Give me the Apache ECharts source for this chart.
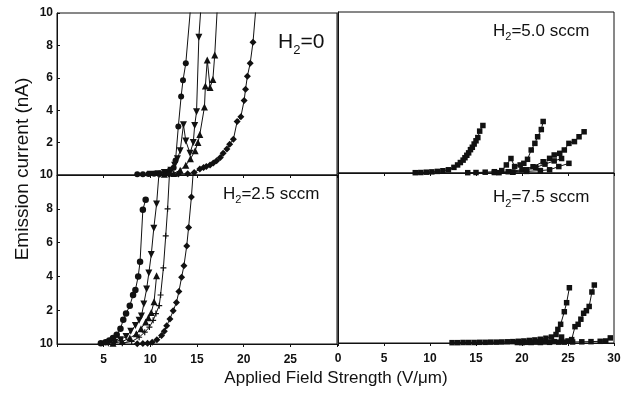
<!DOCTYPE html>
<html><head><meta charset="utf-8">
<script src="https://cdn.jsdelivr.net/npm/echarts/dist/echarts.min.js"></script>
<style>html,body{margin:0;padding:0;background:#fff}#c{width:626px;height:396px}</style>
</head><body><div id="c"></div>
<script>
// ---- tick labels ----
const xTicksLeft = ['', '5', '10', '15', '20', '25', ''];
const xTicksRight = ['0', '5', '10', '15', '20', '25', '30'];
const yTicksTop = ['', '2', '4', '6', '8', '10'];
const yTicksBottom = ['10', '2', '4', '6', '8', '10'];
const panelTitles = ['=0', '=5.0 sccm', '=2.5 sccm', '=7.5 sccm'];
const xTitle = 'Applied Field Strength (V/\u03bcm)';
const yTitle = 'Emission current (nA)';

// ---- H2 = 0 (top-left) ----
const tlCircle = [[8.6,0.05],[9.2,0.05],[9.8,0.06],[10.4,0.07],[11.0,0.1],[11.6,0.18],[12.1,0.3],[12.5,0.45],[12.7,0.9],[13.0,3.0],[13.3,4.85],[13.5,5.85],[13.8,6.9],[14.35,10.6]];
const tlInvTri = [[10.0,0.05],[10.8,0.08],[11.5,0.15],[12.2,0.3],[12.6,0.6],[12.9,1.0],[13.2,1.5],[13.55,3.1],[13.8,2.1],[14.25,1.35],[14.6,2.0],[14.75,3.05],[14.95,3.9],[15.2,8.5],[15.45,10.6]];
const tlTri = [[11.5,0.05],[12.5,0.1],[13.2,0.3],[13.8,0.6],[14.3,1.0],[14.8,1.5],[15.1,2.0],[15.3,2.5],[15.8,4.2],[15.9,5.5],[16.1,7.1],[16.4,5.4],[16.7,5.9],[16.9,7.4],[17.2,10.6]];
const tlDiamond = [[11.0,0.05],[12.0,0.05],[13.0,0.06],[14.0,0.08],[14.7,0.15],[15.3,0.37],[15.7,0.47],[16.0,0.53],[16.4,0.61],[16.75,0.74],[17.1,0.88],[17.5,1.08],[17.8,1.35],[18.2,1.6],[18.5,1.9],[18.9,2.2],[19.3,3.3],[19.7,3.6],[20.05,4.6],[20.2,5.3],[20.4,6.1],[20.7,6.9],[21.0,8.2],[21.35,10.6]];

// ---- H2 = 2.5 sccm (bottom-left) ----
const blCircle = [[4.7,0.05],[5.2,0.1],[5.6,0.2],[6.0,0.35],[6.4,0.55],[6.8,0.9],[7.1,1.44],[7.4,1.8],[7.8,2.27],[8.15,2.9],[8.4,3.2],[8.7,4.0],[8.9,4.87],[9.2,7.95],[9.5,8.54]];
const blInvTri = [[5.5,0.05],[6.2,0.1],[6.8,0.25],[7.4,0.45],[7.9,0.75],[8.4,1.1],[8.8,1.4],[9.05,1.65],[9.3,2.37],[9.6,3.25],[9.84,4.2],[10.1,5.3],[10.37,6.85],[10.67,8.28],[11.0,10.6]];
const blTri = [[6.0,0.05],[7.0,0.15],[7.8,0.35],[8.5,0.6],[9.0,0.9],[9.5,1.3],[9.8,1.55],[10.1,1.87],[10.4,2.5],[10.67,4.04]];
const blPlus = [[7.0,0.05],[8.0,0.15],[8.8,0.4],[9.4,0.7],[9.9,1.0],[10.3,1.4],[10.6,1.8],[10.95,2.27],[11.1,2.9],[11.4,4.5],[11.65,6.4],[11.85,8.0],[12.1,10.6]];
const blDiamond = [[8.6,0.02],[9.2,0.03],[9.7,0.05],[10.2,0.1],[10.7,0.25],[11.2,0.5],[11.5,0.75],[11.75,1.08],[12.1,1.48],[12.45,1.97],[12.8,2.46],[13.06,3.1],[13.35,3.95],[13.6,4.63],[13.9,5.8],[14.1,6.9],[14.4,8.7],[14.65,10.6]];

// ---- H2 = 5.0 sccm (top-right) ----
const trSq1 = [[8.4,0.02],[9.0,0.03],[9.6,0.05],[10.2,0.07],[10.8,0.1],[11.4,0.14],[12.0,0.2],[12.6,0.35],[13.0,0.5],[13.3,0.65],[13.6,0.8],[13.8,0.95],[14.0,1.1],[14.2,1.25],[14.4,1.45],[14.6,1.6],[14.8,1.8],[15.0,2.0],[15.2,2.2],[15.4,2.6],[15.75,2.95]];
const trSq2 = [[14.1,0.02],[15.0,0.03],[16.0,0.05],[17.0,0.08],[17.8,0.15],[18.3,0.5],[18.8,0.9],[19.2,0.4],[19.8,0.5],[20.2,0.6],[20.6,0.85],[21.0,1.43],[21.4,1.84],[21.7,2.25],[22.1,2.7],[22.3,3.2]];
const trSq3 = [[17.0,0.03],[18.5,0.08],[20.0,0.2],[21.2,0.39],[22.3,0.7],[23.0,0.91],[23.5,1.12],[24.1,1.22],[24.6,1.43],[25.1,1.84],[25.7,1.95],[26.2,2.25],[26.75,2.56]];
const trSq4 = [[17.5,0.02],[19.0,0.05],[20.5,0.1],[22.0,0.15],[23.0,0.2],[24.0,0.4],[25.1,0.6]];
const trSq5 = [[19.0,0.05],[20.5,0.2],[21.5,0.35],[22.5,0.55],[23.5,0.75],[24.3,0.9]];

// ---- H2 = 7.5 sccm (bottom-right) ----
const brSq1 = [[12.4,0.02],[13.0,0.02],[13.6,0.03],[14.2,0.03],[14.8,0.03],[15.4,0.04],[16.0,0.04],[16.6,0.05],[17.2,0.05],[17.8,0.06],[18.4,0.07],[19.0,0.08],[19.6,0.1],[20.2,0.12],[20.8,0.15],[21.4,0.18],[22.0,0.22],[22.6,0.28],[23.2,0.35],[23.7,0.5],[23.9,0.8],[24.2,1.1],[24.6,1.84],[24.85,2.37],[25.15,3.25]];
const brSq2 = [[19.5,0.03],[20.5,0.04],[21.5,0.05],[22.5,0.06],[23.5,0.08],[24.3,0.1],[25.0,0.12],[25.4,0.2],[25.76,0.96],[26.1,1.1],[26.4,1.4],[26.7,1.75],[27.0,1.9],[27.3,2.15],[27.6,3.0],[27.86,3.41]];
const brSq3 = [[20.0,0.02],[21.0,0.03],[22.0,0.03],[23.0,0.04],[24.0,0.05],[24.3,0.35],[24.6,0.05],[25.5,0.06],[26.5,0.07],[27.5,0.08],[28.5,0.1],[29.1,0.12],[29.6,0.3]];

const INK = '#111111';
const FAM = '"Liberation Sans", Arial, Helvetica, sans-serif';
const PLUS = 'path://M4,0H6V4H10V6H6V10H4V6H0V4H4Z';

function xAxis(grid, labels, showLabels) {
  return {
    type: 'value', gridIndex: grid, min: 0, max: 30, interval: 5,
    axisLine: {show: true, onZero: false, lineStyle: {color: INK, width: 1}},
    axisTick: {show: true, inside: false, length: 3, lineStyle: {color: INK}},
    splitLine: {show: false},
    axisLabel: {show: showLabels, margin: 10, color: INK, fontFamily: FAM, fontWeight: 'bold', fontSize: 12,
      formatter: v => labels[Math.round(v / 5)]}
  };
}
function yAxis(grid, labels, showLabels) {
  return {
    type: 'value', gridIndex: grid, min: 0, max: 10, interval: 2,
    axisLine: {show: true, onZero: false, lineStyle: {color: INK, width: 1}},
    axisTick: {show: showLabels, inside: true, length: 3, lineStyle: {color: INK}},
    splitLine: {show: false},
    axisLabel: {show: showLabels, margin: 4, color: INK, fontFamily: FAM, fontWeight: 'bold', fontSize: 12,
      formatter: v => labels[Math.round(v / 2)]}
  };
}
function ser(data, idx, symbol, size, rotate) {
  return {
    type: 'line', xAxisIndex: idx, yAxisIndex: idx, data: data, clip: true,
    symbol: symbol, symbolSize: size, symbolRotate: rotate || 0, showAllSymbol: true,
    lineStyle: {color: INK, width: 1}, itemStyle: {color: INK, borderWidth: 0},
    animation: false, silent: true
  };
}

const ctx = document.createElement('canvas').getContext('2d');
function tw(t, f) { ctx.font = f; return ctx.measureText(t).width; }
function h2(x, ymid, size, rest) {
  const f = size + 'px ' + FAM;
  const subSize = Math.round(size * 0.62);
  const fs = subSize + 'px ' + FAM;
  const wh = tw('H', f), ws = tw('2', fs);
  return [
    {type: 'text', x: x, y: ymid, style: {text: 'H', font: f, fill: INK, verticalAlign: 'middle'}},
    {type: 'text', x: x + wh, y: ymid + size * 0.38, style: {text: '2', font: fs, fill: INK, verticalAlign: 'middle'}},
    {type: 'text', x: x + wh + ws, y: ymid, style: {text: rest, font: f, fill: INK, verticalAlign: 'middle'}}
  ];
}

const chart = echarts.init(document.getElementById('c'), null, {renderer: 'canvas'});
const gridStyle = {show: true, borderColor: INK, borderWidth: 1, backgroundColor: 'transparent'};
chart.setOption({
  animation: false,
  backgroundColor: '#fff',
  grid: [
    Object.assign({left: 57, top: 13, width: 280, height: 162}, gridStyle),
    Object.assign({left: 57, top: 175, width: 280, height: 169}, gridStyle),
    Object.assign({left: 338, top: 12, width: 276, height: 161}, gridStyle),
    Object.assign({left: 338, top: 173, width: 276, height: 170}, gridStyle)
  ],
  xAxis: [xAxis(0, xTicksLeft, false), xAxis(1, xTicksLeft, true), xAxis(2, xTicksRight, false), xAxis(3, xTicksRight, true)],
  yAxis: [yAxis(0, yTicksTop, true), yAxis(1, yTicksBottom, true), yAxis(2, yTicksTop, false), yAxis(3, yTicksBottom, false)],
  series: [
    ser(tlCircle, 0, 'circle', 6), ser(tlInvTri, 0, 'triangle', 7, 180), ser(tlTri, 0, 'triangle', 7), ser(tlDiamond, 0, 'diamond', 7),
    ser(blCircle, 1, 'circle', 6.5), ser(blInvTri, 1, 'triangle', 7, 180), ser(blTri, 1, 'triangle', 7), ser(blPlus, 1, PLUS, 6), ser(blDiamond, 1, 'diamond', 7),
    ser(trSq1, 2, 'rect', 5.5), ser(trSq2, 2, 'rect', 5.5), ser(trSq3, 2, 'rect', 5.5), ser(trSq4, 2, 'rect', 5.5), ser(trSq5, 2, 'rect', 5.5),
    ser(brSq1, 3, 'rect', 5.5), ser(brSq2, 3, 'rect', 5.5), ser(brSq3, 3, 'rect', 5.5)
  ],
  graphic: [].concat(
    h2(278, 42, 21, panelTitles[0]),
    h2(493, 31, 17, panelTitles[1]),
    h2(223, 194, 17, panelTitles[2]),
    h2(493, 197.5, 17, panelTitles[3]),
    [
      {type: 'text', x: 336, y: 378, style: {text: xTitle, font: '17px ' + FAM, fill: INK, align: 'center', verticalAlign: 'middle'}},
      {type: 'text', x: 23, y: 169, rotation: Math.PI / 2, style: {text: yTitle, font: '19px ' + FAM, fill: INK, align: 'center', verticalAlign: 'middle'}}
    ]
  )
});
</script>
</body></html>
